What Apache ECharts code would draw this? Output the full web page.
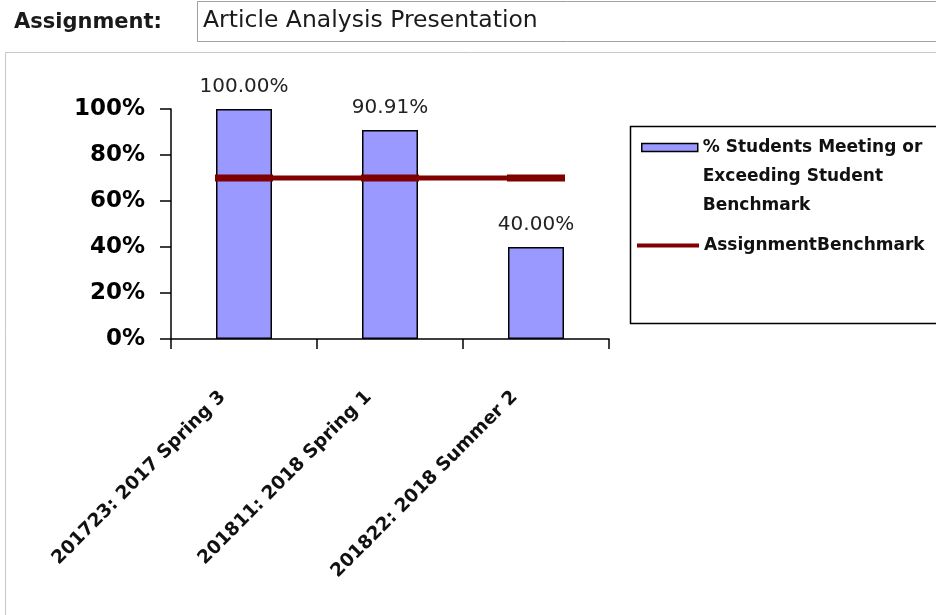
<!DOCTYPE html>
<html><head><meta charset="utf-8">
<script src="https://cdn.jsdelivr.net/npm/echarts@6/dist/echarts.min.js"></script>
<style>html,body{margin:0;padding:0;background:#fff}#c{width:936px;height:615px}</style>
</head><body><div id="c"></div>
<script>
const categories = ['201723: 2017 Spring 3', '201811: 2018 Spring 1', '201822: 2018 Summer 2'];
const pctMeeting = [1.0, 0.9091, 0.40];
const benchmark = [0.70, 0.70, 0.70];
const yTicks = [0, 0.2, 0.4, 0.6, 0.8, 1.0];
const barName = '% Students Meeting or Exceeding Student Benchmark';
const lineName = 'AssignmentBenchmark';
const assignmentLabel = 'Assignment:';
const assignmentName = 'Article Analysis Presentation';

const chart = echarts.init(document.getElementById('c'), null, {renderer: 'canvas'});
const dj = '"DejaVu Sans", sans-serif';
chart.setOption({
  animation: false,
  backgroundColor: '#fff',
  graphic: [
    {type: 'text', left: 14, top: 12, style: {text: assignmentLabel, font: 'bold 21px ' + dj, fill: '#1a1a1a'}},
    {type: 'rect', shape: {x: 197.5, y: 1.5, width: 760, height: 40}, style: {fill: '#fff', stroke: '#a0a0a0', lineWidth: 1}},
    {type: 'text', left: 203, top: 9, style: {text: assignmentName, font: '23.5px ' + dj, fill: '#1a1a1a'}},
    {type: 'rect', shape: {x: 5.5, y: 52.5, width: 960, height: 600}, style: {fill: 'none', stroke: '#c8c8c8', lineWidth: 1}},
    {type: 'rect', shape: {x: 630.5, y: 126.5, width: 330, height: 197}, style: {fill: '#fff', stroke: '#000', lineWidth: 1.5}, z: -1}
  ],
  grid: {left: 171, top: 109, width: 438, height: 230, containLabel: false},
  legend: [
    {
      data: [{name: barName, icon: 'rect'}],
      orient: 'vertical', left: 641, top: 75, padding: 0,
      itemWidth: 56, itemHeight: 8,
      formatter: () => '\n\n% Students Meeting or\nExceeding Student\nBenchmark',
      textStyle: {fontFamily: dj, fontWeight: 'bold', fontSize: 17, color: '#111', lineHeight: 29},
      itemStyle: {borderColor: '#000', borderWidth: 1.5}
    },
    {
      data: [{name: lineName, icon: 'rect'}],
      orient: 'vertical', left: 637, top: 237, padding: 0,
      itemWidth: 62, itemHeight: 4,
      textStyle: {fontFamily: dj, fontWeight: 'bold', fontSize: 17, color: '#111'},
      itemStyle: {color: '#800000', borderWidth: 0}
    }
  ],
  xAxis: {
    type: 'category', data: categories,
    axisLine: {lineStyle: {color: '#000', width: 1.5}},
    axisTick: {show: true, length: 10, lineStyle: {color: '#000', width: 1.5}},
    axisLabel: {rotate: 45, margin: 34, padding: [0, 30, 0, 0], fontFamily: dj, fontWeight: 'bold', fontSize: 18.5, color: '#111', interval: 0}
  },
  yAxis: {
    type: 'value', min: 0, max: 1, interval: 0.2,
    splitLine: {show: false},
    axisLine: {show: true, lineStyle: {color: '#000', width: 1.5}},
    axisTick: {show: true, length: 11, lineStyle: {color: '#000', width: 1.5}},
    axisLabel: {margin: 26, fontFamily: dj, fontWeight: 'bold', fontSize: 23, color: '#000',
      formatter: v => Math.round(v * 100) + '%'}
  },
  series: [
    {
      name: barName, type: 'bar', data: pctMeeting, barWidth: 56,
      itemStyle: {color: '#9999FF', borderColor: '#000', borderWidth: 1.5},
      label: {show: true, position: 'top', distance: 12, fontFamily: dj, fontSize: 20, color: '#222',
        formatter: p => (p.value * 100).toFixed(2) + '%'}
    },
    {
      name: lineName, type: 'line', data: benchmark,
      lineStyle: {color: '#800000', width: 5},
      itemStyle: {color: '#800000'},
      symbol: 'rect', symbolSize: [58, 7], showSymbol: true, z: 3
    }
  ]
});
</script></body></html>
